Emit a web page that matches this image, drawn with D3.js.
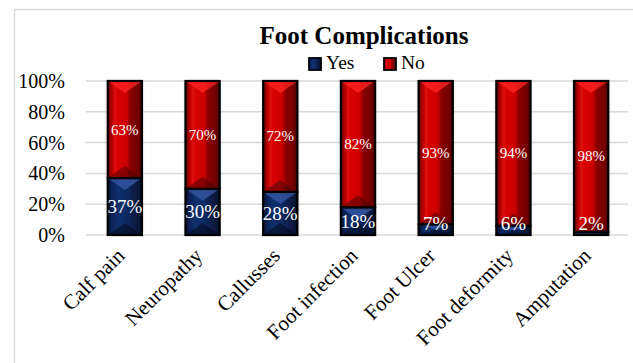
<!DOCTYPE html>
<html>
<head>
<meta charset="utf-8">
<script src="https://cdn.jsdelivr.net/npm/d3@7"></script>
<style>
  html, body { margin: 0; padding: 0; background: #fff; }
  svg { display: block; }
  text { font-family: "Liberation Serif", "Times New Roman", serif; }
</style>
</head>
<body>
<svg id="chart" width="633" height="363"></svg>
<script>
// Share of patients reporting each foot complication
const categories = ["Calf pain", "Neuropathy", "Callusses", "Foot infection", "Foot Ulcer", "Foot deformity", "Amputation"];
const yesValues = [37, 30, 28, 18, 7, 6, 2];
const noValues = [63, 70, 72, 82, 93, 94, 98];
const seriesNames = ["Yes", "No"];
const yTicks = [0, 20, 40, 60, 80, 100];

const svg = d3.select("#chart");

// chart frame
svg.append("rect")
  .attr("x", 14.5).attr("y", 9.5).attr("width", 640).attr("height", 380)
  .attr("fill", "#fff").attr("stroke", "#d9d9d9").attr("stroke-width", 1.5);

const x = d3.scaleBand().domain(categories).range([86, 630]).paddingInner(0.56).paddingOuter(0.28);
const y = d3.scaleLinear().domain([0, 100]).range([235, 81]);

// gradients for the bevelled bars
const defs = svg.append("defs");
function hGrad(id, stops) {
  const g = defs.append("linearGradient").attr("id", id).attr("x1", "0").attr("x2", "1").attr("y1", "0").attr("y2", "0");
  stops.forEach(s => g.append("stop").attr("offset", s[0]).attr("stop-color", s[1]));
}
hGrad("gNo", [[0, "#5a0000"], [0.1, "#a80000"], [0.2, "#dc0808"], [0.55, "#cc0000"], [0.66, "#8a0000"], [0.9, "#700000"], [1, "#4a0000"]]);
hGrad("gYes", [[0, "#05102a"], [0.12, "#0b2258"], [0.3, "#12306c"], [0.55, "#0e2a62"], [0.7, "#0a2050"], [1, "#05102a"]]);
const shadow = defs.append("filter").attr("id", "shadow").attr("x", "-30%").attr("y", "-10%").attr("width", "160%").attr("height", "120%");
shadow.append("feDropShadow").attr("dx", 0).attr("dy", 0).attr("stdDeviation", 1.8).attr("flood-color", "#000").attr("flood-opacity", 0.35);

// gridlines
svg.append("g").selectAll("line").data(yTicks).join("line")
  .attr("x1", 86).attr("x2", 628)
  .attr("y1", d => y(d)).attr("y2", d => y(d))
  .attr("stroke", "#d9d9d9").attr("stroke-width", 1.5);

// y axis labels
const yAxis = d3.axisLeft(y).tickValues(yTicks).tickFormat(d => d + "%").tickSize(0).tickPadding(0);
const yg = svg.append("g").attr("transform", "translate(65,0)").call(yAxis);
yg.select(".domain").remove();
yg.selectAll("text").attr("font-size", 20).attr("fill", "#000")
  .attr("font-family", "Liberation Serif, serif");

// stacked data
const rows = categories.map((c, i) => ({ cat: c, Yes: yesValues[i], No: noValues[i] }));
const stack = d3.stack().keys(seriesNames)(rows);
const fills = { Yes: "url(#gYes)", No: "url(#gNo)" };
const topBevel = { Yes: "#3a5aa8", No: "#ff2424" };
const botBevel = { Yes: "#020716", No: "#4a0000" };

const barsG = svg.append("g");
stack.forEach(layer => {
  const key = layer.key;
  const g = barsG.append("g");
  layer.forEach(d => {
    const x0 = x(d.data.cat), bw = x.bandwidth();
    const yTop = y(d[1]), yBot = y(d[0]);
    const h = yBot - yTop;
    const seg = g.append("g");
    seg.append("rect").attr("x", x0).attr("y", yTop).attr("width", bw).attr("height", h)
      .attr("fill", fills[key]).attr("filter", "url(#shadow)");
    const bv = Math.min(12, h / 2);
    if (h > 3) {
      seg.append("path")
        .attr("d", `M${x0},${yTop}L${x0 + bw},${yTop}L${x0 + bw / 2},${yTop + bv}Z`)
        .attr("fill", topBevel[key]).attr("opacity", 0.75);
      seg.append("path")
        .attr("d", `M${x0},${yBot}L${x0 + bw},${yBot}L${x0 + bw / 2},${yBot - bv}Z`)
        .attr("fill", botBevel[key]).attr("opacity", 0.55);
    }
    seg.append("rect").attr("x", x0).attr("y", yTop).attr("width", bw).attr("height", h)
      .attr("fill", "none").attr("stroke", "#000").attr("stroke-width", 2.2);
  });
});

// data labels
stack.forEach(layer => {
  const key = layer.key;
  svg.append("g").selectAll("text").data(layer).join("text")
    .attr("x", d => x(d.data.cat) + x.bandwidth() / 2)
    .attr("y", d => key === "Yes" ? Math.min((y(d[0]) + y(d[1])) / 2, y(0) - 12) : (y(d[0]) + y(d[1])) / 2)
    .attr("text-anchor", "middle").attr("dominant-baseline", "central")
    .attr("font-size", key === "Yes" ? 19 : 15)
    .attr("fill", "#fff")
    .text(d => (d[1] - d[0]) + "%");
});

// category labels
svg.append("g").selectAll("text").data(categories).join("text")
  .attr("transform", d => `translate(${x(d) + x.bandwidth() / 2 + 1},257) rotate(-45)`)
  .attr("text-anchor", "end").attr("font-size", 21).attr("fill", "#000")
  .text(d => d);

// title
svg.append("text").attr("x", 364).attr("y", 44).attr("text-anchor", "middle")
  .attr("font-size", 25).attr("font-weight", "bold").attr("fill", "#000")
  .text("Foot Complications");

// legend
const legendX = [309, 384];
const legendFill = { Yes: "url(#gYes)", No: "url(#gNo)" };
seriesNames.forEach((s, i) => {
  svg.append("rect").attr("x", legendX[i]).attr("y", 58).attr("width", 12).attr("height", 12)
    .attr("fill", legendFill[s]).attr("stroke", "#000").attr("stroke-width", 1.8);
  svg.append("text").attr("x", legendX[i] + 17).attr("y", 69)
    .attr("font-size", 19.5).attr("fill", "#000").text(s);
});
</script>
</body>
</html>
